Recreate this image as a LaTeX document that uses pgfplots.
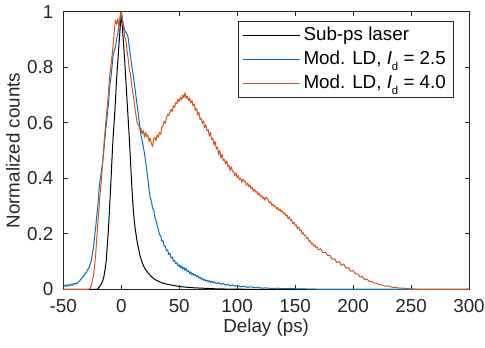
\documentclass[border=0pt]{standalone}
\usepackage{pgfplots}
\pgfplotsset{compat=1.18}
\usepackage{fontspec}
\setmainfont{Liberation Sans}

\definecolor{mblue}{rgb}{0,0.447,0.741}
\definecolor{morange}{rgb}{0.85,0.325,0.098}
\definecolor{maxis}{rgb}{0.15,0.15,0.15}
\newcommand\mfont{\fontsize{18.8bp}{22bp}\selectfont}
\newcommand\Id{\textit{I}\raisebox{-6.3bp}{\fontsize{11.4bp}{12bp}\selectfont d}}

\begin{document}
\begin{tikzpicture}
\begin{axis}[
  name=ax,
  width=405.7bp, height=277.6bp, scale only axis,
  xmin=-50, xmax=300, ymin=0, ymax=1,
  xtick={-50,0,50,100,150,200,250,300},
  xticklabels={-50,0,50,100,150,200,250,300},
  ytick={0,0.2,0.4,0.6,0.8,1},
  yticklabels={0,0.2,0.4,0.6,0.8,1},
  tick align=inside, major tick length=4.5bp,
  axis line style={maxis, line width=0.8bp},
  every tick/.style={maxis, line width=0.8bp},
  ticklabel style={font=\mfont, text=maxis},
  xticklabel style={yshift=-6.5bp},
  yticklabel style={xshift=-6.5bp},
  xlabel={Delay (ps)}, ylabel={Normalized counts},
  every axis x label/.style={at={(rel axis cs:0.5,0)}, anchor=center,
    yshift=-38bp, font=\mfont, text=maxis},
  every axis y label/.style={at={(rel axis cs:0,0.5)}, anchor=center,
    rotate=90, yshift=50.5bp, font=\mfont, text=maxis},
  legend image code/.code={\draw[#1] (0bp,0bp) -- (57bp,0bp);},
  legend cell align=left,
  legend style={at={(1,1)}, anchor=north east, xshift=-15.7bp, yshift=-9bp,
    draw=maxis, line width=0.8bp, fill=white, inner xsep=3.5bp, inner ysep=2bp,
    row sep=0pt, font=\mfont, text=black,
    nodes={text height=14bp, text depth=4bp, inner ysep=3bp, inner xsep=3.5bp}},
  every axis plot/.append style={line width=1bp, line join=round},
]
\addplot[black] coordinates {
(-50,0) (-21,0) (-20,0.003) (-19,0.008) (-18,0.014) (-17,0.021) (-16,0.03) (-15,0.045)
(-14,0.07) (-13,0.1) (-12,0.16) (-11,0.22) (-10,0.3) (-9,0.38) (-8,0.47) (-7,0.55)
(-6,0.61) (-5,0.68) (-4,0.76) (-3,0.82) (-2,0.88) (-1,0.94) (0,1.0)
(1,0.94) (2,0.885) (3,0.82) (4,0.75) (5,0.68) (6,0.61) (7,0.54) (8,0.46) (9,0.38)
(10,0.31) (11,0.255) (12,0.22) (13,0.19) (14,0.165) (15,0.145) (16,0.125) (17,0.11)
(18,0.097) (19,0.087) (20,0.078) (22,0.065) (24,0.055) (26,0.046) (28,0.039) (30,0.033)
(33,0.027) (36,0.022) (40,0.018) (45,0.014) (50,0.01) (55,0.008) (60,0.006) (70,0.004)
(80,0.002) (90,0.001) (100,0.0005) (110,0) (300,0)
};
\addlegendentry{Sub-ps laser}
\addplot[mblue] coordinates {
(-50,0.012) (-49,0.015) (-48,0.01) (-47,0.016) (-46,0.012) (-45,0.017) (-44,0.013)
(-43,0.019) (-42,0.015) (-41,0.021) (-40,0.018) (-39,0.023) (-38,0.02) (-37,0.027)
(-36,0.029) (-35,0.036) (-34,0.039) (-33,0.046) (-32,0.049) (-31,0.058) (-30,0.061)
(-29,0.071) (-28,0.075) (-27,0.089) (-26,0.1) (-25,0.125) (-24,0.15) (-23,0.19)
(-22,0.225) (-21,0.27) (-20,0.31) (-19,0.37) (-18,0.4) (-17,0.43) (-16,0.46)
(-15,0.5) (-14,0.55) (-13,0.59) (-12,0.63) (-11,0.67) (-10,0.73) (-9,0.76) (-8,0.8)
(-7,0.845) (-6,0.86) (-5,0.875) (-4,0.9) (-3,0.92) (-2,0.945) (-1,0.97) (0,1.0)
(1,0.975) (2,0.95) (3,0.935) (4,0.925) (5,0.92) (6,0.905) (7,0.87) (8,0.84) (9,0.805)
(10,0.78) (11,0.75) (12,0.72) (13,0.685) (14,0.655) (15,0.62) (16,0.59) (17,0.555)
(18,0.535) (19,0.515) (20,0.49) (21,0.46) (22,0.43) (23,0.395) (24,0.36) (25,0.33)
(26,0.318) (27,0.292) (28,0.285) (29,0.26) (30,0.248) (31,0.229) (32,0.215) (33,0.197)
(34,0.193) (35,0.173) (36,0.175) (37,0.155) (38,0.156) (39,0.139) (40,0.142) (41,0.125)
(42,0.129) (43,0.113) (44,0.116) (45,0.101) (46,0.104) (47,0.092) (48,0.096) (49,0.084)
(50,0.088) (51,0.077) (52,0.085) (53,0.073) (54,0.08) (55,0.068) (56,0.075) (57,0.063)
(58,0.067) (59,0.057) (60,0.063) (61,0.052) (62,0.057) (63,0.049) (64,0.053) (65,0.045)
(66,0.049) (67,0.04) (68,0.044) (69,0.036) (70,0.04) (71,0.032) (72,0.036) (73,0.029)
(74,0.033) (75,0.027) (76,0.031) (77,0.025) (78,0.029) (79,0.023) (80,0.027) (82,0.021)
(84,0.024) (86,0.018) (88,0.021) (90,0.015) (92,0.018) (94,0.013) (96,0.016) (98,0.011)
(100,0.014) (103,0.009) (106,0.011) (109,0.007) (112,0.009) (115,0.006) (118,0.008)
(121,0.004) (125,0.005) (130,0.003) (135,0.004) (140,0.002) (150,0.002) (160,0.001)
(170,0) (300,0)
};
\addlegendentry{Mod. LD, \Id{} = 2.5}
\addplot[morange] coordinates {
(-50,0) (-28,0) (-27,0.003) (-26,0.012) (-25,0.028) (-24,0.05) (-23,0.085) (-22,0.13)
(-21,0.19) (-20,0.25) (-19,0.3) (-18,0.36) (-17,0.4) (-16,0.46) (-15,0.52) (-14,0.57)
(-13,0.62) (-12,0.66) (-11,0.71) (-10,0.77) (-9,0.8) (-8,0.84) (-7,0.88) (-6,0.93)
(-5,0.97) (-4,0.955) (-3,0.975) (-2,0.945) (-1,0.985) (0,1.0) (1,0.965) (2,0.94)
(3,0.91) (4,0.895) (5,0.86) (6,0.83) (7,0.79) (8,0.775) (9,0.735) (10,0.71) (11,0.68)
(12,0.645) (13,0.62) (14,0.595) (15,0.59) (16,0.575) (17,0.58) (18,0.56) (19,0.572)
(20,0.548) (21,0.565) (22,0.55) (23,0.556) (24,0.532) (25,0.545) (26,0.525) (27,0.515)
(28,0.54) (29,0.548) (30,0.535) (31,0.556) (32,0.548) (33,0.565) (34,0.558) (35,0.585)
(36,0.59) (37,0.605) (38,0.598) (39,0.618) (40,0.63) (41,0.626) (42,0.64) (43,0.648)
(44,0.64) (45,0.662) (46,0.655) (47,0.672) (48,0.668) (49,0.685) (50,0.676) (51,0.692)
(52,0.682) (53,0.7) (54,0.69) (55,0.708) (56,0.688) (57,0.696) (58,0.68) (59,0.69)
(60,0.672) (61,0.68) (62,0.66) (63,0.668) (64,0.644) (65,0.652) (66,0.628) (67,0.637)
(68,0.612) (69,0.616) (70,0.597) (71,0.607) (72,0.583) (73,0.593) (74,0.572) (75,0.575)
(76,0.552) (77,0.565) (78,0.54) (79,0.544) (80,0.52) (81,0.533) (82,0.506) (83,0.512)
(84,0.486) (85,0.5) (86,0.472) (87,0.487) (88,0.464) (89,0.468) (90,0.451) (91,0.463)
(92,0.442) (93,0.446) (94,0.428) (95,0.441) (96,0.424) (97,0.423) (98,0.408) (99,0.42)
(100,0.402) (101,0.41) (102,0.395) (103,0.401) (104,0.385) (105,0.397) (106,0.388)
(107,0.39) (108,0.375) (109,0.383) (110,0.37) (111,0.376) (112,0.362) (113,0.368)
(114,0.353) (115,0.36) (116,0.35) (117,0.352) (118,0.34) (119,0.347) (120,0.334)
(121,0.338) (122,0.327) (123,0.332) (124,0.321) (125,0.33) (126,0.328) (127,0.318)
(128,0.311) (129,0.315) (130,0.302) (131,0.307) (132,0.297) (133,0.3) (134,0.289)
(135,0.295) (136,0.284) (137,0.289) (138,0.278) (139,0.283) (140,0.272) (141,0.275)
(142,0.264) (143,0.268) (144,0.254) (145,0.261) (146,0.248) (147,0.251) (148,0.237)
(149,0.242) (150,0.229) (151,0.232) (152,0.218) (153,0.224) (154,0.212) (155,0.214)
(156,0.2) (157,0.204) (158,0.193) (159,0.195) (160,0.183) (161,0.186) (162,0.172)
(163,0.175) (164,0.163) (165,0.166) (166,0.155) (167,0.16) (168,0.15) (169,0.152)
(170,0.142) (172,0.146) (174,0.132) (176,0.134) (178,0.122) (180,0.122) (182,0.108)
(184,0.11) (186,0.096) (188,0.1) (190,0.086) (192,0.09) (194,0.076) (196,0.078)
(198,0.065) (200,0.068) (202,0.055) (204,0.056) (206,0.044) (208,0.046) (210,0.035)
(212,0.037) (214,0.028) (216,0.029) (218,0.022) (220,0.023) (222,0.017) (225,0.016)
(228,0.011) (231,0.011) (234,0.007) (237,0.007) (240,0.004) (244,0.004) (248,0.002)
(252,0.001) (256,0) (300,0)
};
\addlegendentry{Mod. LD, \Id{} = 4.0}
\end{axis}
\pgfresetboundingbox
\path[use as bounding box] ([xshift=-63.3bp,yshift=-58.7bp]ax.south west)
  rectangle ([xshift=16bp,yshift=11.7bp]ax.north east);
\end{tikzpicture}
\end{document}
